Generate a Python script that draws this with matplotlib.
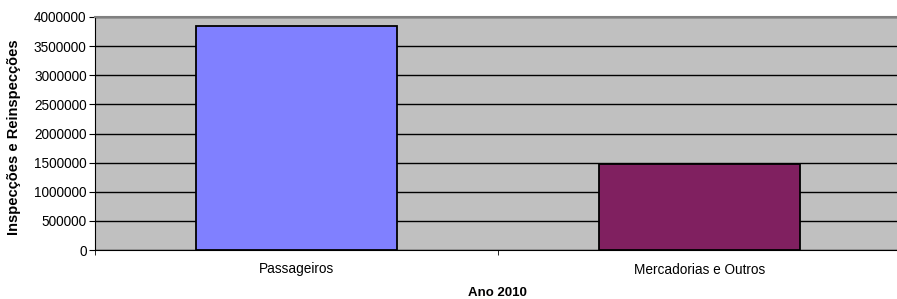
import matplotlib
matplotlib.use("Agg")
import matplotlib.pyplot as plt
from matplotlib.ticker import FixedLocator

plt.rcParams['font.family'] = ['Liberation Sans', 'DejaVu Sans']

categories = ["Passageiros", "Mercadorias e Outros"]
values = [3850000, 1475000]
colors = ["#8080FF", "#802060"]
yticks = [0, 500000, 1000000, 1500000, 2000000, 2500000, 3000000, 3500000, 4000000]

W, H = 897, 299
fig = plt.figure(figsize=(W/100, H/100), dpi=100)
ax = fig.add_axes([95/W, 1 - 250/H, (901-95)/W, (250-17)/H])
ax.set_facecolor("#C0C0C0")
x = range(len(categories))
ax.bar(x, values, width=0.5, color=colors, edgecolor="black", linewidth=1.3, zorder=3)
ax.set_xlim(-0.5, 1.5)
ax.set_ylim(0, 4000000)
ax.set_yticks(yticks)
ax.set_yticklabels([str(v) for v in yticks], fontsize=9.8)
ax.set_xticks(list(x))
ax.set_xticklabels(categories, fontsize=9.8)
ax.xaxis.set_minor_locator(FixedLocator([-0.5, 0.5, 1.5]))
ax.tick_params(axis='x', which='major', length=0, pad=9)
ax.tick_params(axis='x', which='minor', length=3.5, direction='out')
ax.tick_params(axis='y', length=4, direction='out', pad=2)
ax.yaxis.grid(True, color="black", linewidth=1.0, zorder=1)
ax.set_axisbelow(True)
for s in ["top", "right"]:
    ax.spines[s].set_color("#808080")
    ax.spines[s].set_linewidth(1.5)
ax.spines["bottom"].set_color("black")
ax.spines["left"].set_color("black")
fig.text(14/W, 1 - 137/H, "Inspecções e Reinspecções", fontsize=10.5, fontweight="bold",
         rotation=90, ha="center", va="center")
fig.text(497/W, 1 - 293/H, "Ano 2010", fontsize=9.5, fontweight="bold",
         ha="center", va="center")
fig.savefig("out.png", dpi=100)
